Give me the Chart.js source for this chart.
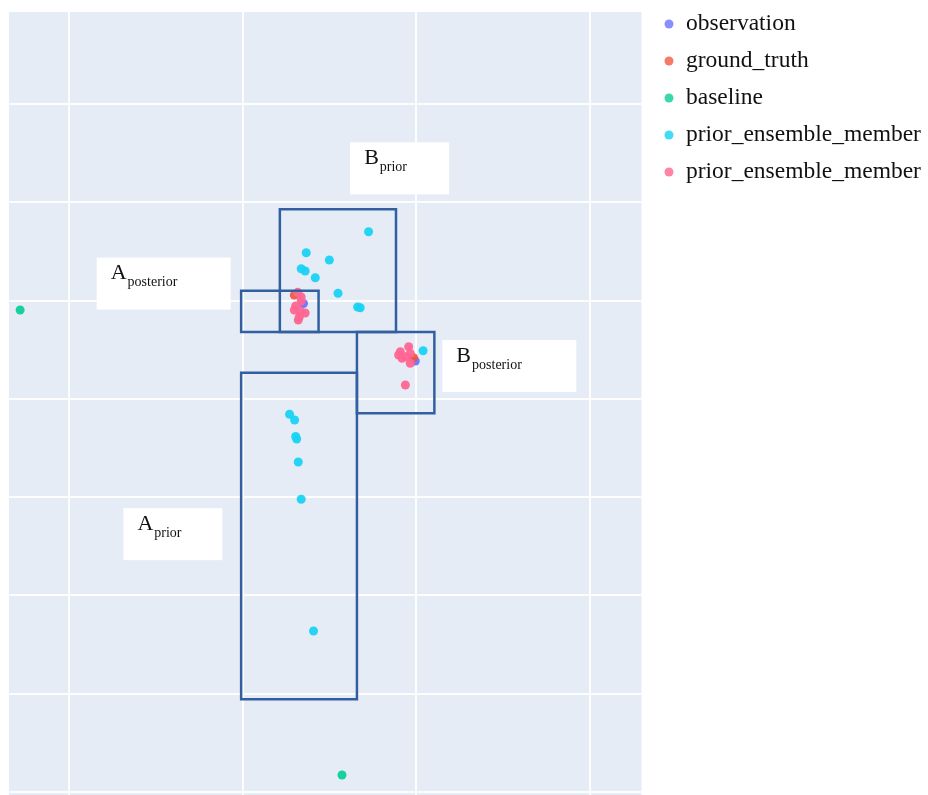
<!DOCTYPE html>
<html>
<head>
<meta charset="utf-8">
<script src="https://cdn.jsdelivr.net/npm/chart.js@4.4.1/dist/chart.umd.min.js"></script>
<style>
  html, body { margin: 0; padding: 0; background: #ffffff; }
  #wrap { width: 928px; height: 795px; position: relative; }
</style>
</head>
<body>
<div id="wrap"><canvas id="c" width="928" height="795"></canvas></div>
<script>
// Axis extents
const xRange = [-0.346, 3.297];
const yRange = [-0.0305, 7.936];

// Observed and true positions of the two targets
const observationX = [1.350, 1.994];
const observationY = [4.970, 4.385];
const groundTruthX = [1.297, 1.984];
const groundTruthY = [5.056, 4.419];

// Baseline estimates
const baselineX = [-0.282, 1.572];
const baselineY = [4.904, 0.173];

// Prior ensemble members (cyan)
const priorCyanX = [1.725, 1.366, 1.499, 1.337, 1.360, 1.418, 1.549, 1.662, 1.677, 2.039,
                    1.270, 1.299, 1.305, 1.311, 1.320, 1.337, 1.408];
const priorCyanY = [5.700, 5.487, 5.413, 5.324, 5.301, 5.232, 5.074, 4.934, 4.927, 4.490,
                    3.843, 3.785, 3.617, 3.591, 3.357, 2.978, 1.638];

// Prior ensemble members (pink)
const priorPinkX = [1.317, 1.337, 1.337, 1.305, 1.297, 1.331, 1.360, 1.326, 1.320,
                    1.908, 1.956, 1.965, 1.918, 1.965, 1.937, 1.898, 1.937];
const priorPinkY = [5.084, 5.036, 4.995, 4.945, 4.904, 4.894, 4.873, 4.833, 4.802,
                    4.480, 4.530, 4.463, 4.412, 4.362, 4.429, 4.446, 4.141];

// Bounding boxes: [xMin, xMax, yMin, yMax]
const boxBPrior     = [1.214, 1.883, 4.680, 5.928];
const boxAPosterior = [0.991, 1.437, 4.680, 5.100];
const boxBPosterior = [1.658, 2.104, 3.853, 4.680];
const boxAPrior     = [0.991, 1.658, 0.943, 4.266];

// Box labels
const labelMain = ['B', 'A', 'B', 'A'];
const labelSub  = ['prior', 'posterior', 'posterior', 'prior'];
const labelX    = [1.904, 0.545, 2.536, 0.598];
const labelY    = [6.345, 5.173, 4.334, 2.623];

const COLORS = {
  observation: 'rgba(99,110,250,0.9)',
  ground_truth: 'rgba(239,85,59,0.9)',
  baseline: 'rgba(0,204,150,0.9)',
  cyan: 'rgba(25,211,243,0.95)',
  pink: 'rgba(255,102,146,0.95)',
  box: 'rgb(50,95,160)'
};

function zipPoints(xs, ys) {
  return xs.map((x, i) => ({ x: x, y: ys[i] }));
}

function boxOutline(b) {
  const [x0, x1, y0, y1] = b;
  return [
    { x: x0, y: y0 }, { x: x1, y: y0 }, { x: x1, y: y1 },
    { x: x0, y: y1 }, { x: x0, y: y0 }, { x: x1, y: y0 }
  ];
}

function markerSet(label, xs, ys, color, order) {
  return {
    label: label,
    data: zipPoints(xs, ys),
    backgroundColor: color,
    borderWidth: 0,
    pointRadius: 4.5,
    pointHoverRadius: 4.5,
    showLine: false,
    order: order,
    inLegend: true
  };
}

function boxSet(b) {
  return {
    label: 'box',
    data: boxOutline(b),
    showLine: true,
    borderColor: COLORS.box,
    borderWidth: 2.5,
    borderJoinStyle: 'miter',
    pointRadius: 0,
    pointHoverRadius: 0,
    tension: 0,
    fill: false,
    order: 0,
    inLegend: false
  };
}

const datasets = [
  markerSet('observation', observationX, observationY, COLORS.observation, 5),
  markerSet('ground_truth', groundTruthX, groundTruthY, COLORS.ground_truth, 4),
  markerSet('baseline', baselineX, baselineY, COLORS.baseline, 3),
  markerSet('prior_ensemble_member', priorCyanX, priorCyanY, COLORS.cyan, 2),
  markerSet('prior_ensemble_member', priorPinkX, priorPinkY, COLORS.pink, 1),
  boxSet(boxBPrior),
  boxSet(boxAPosterior),
  boxSet(boxBPosterior),
  boxSet(boxAPrior)
];

// Plot background
const plotBackground = {
  id: 'plotBackground',
  beforeDraw(chart) {
    const { ctx, chartArea: a } = chart;
    ctx.save();
    ctx.fillStyle = '#E5ECF6';
    ctx.fillRect(a.left, a.top, a.right - a.left, a.bottom - a.top);
    ctx.restore();
  }
};

// White label boxes with subscripted text
const boxLabels = {
  id: 'boxLabels',
  afterDatasetsDraw(chart) {
    const { ctx, scales } = chart;
    ctx.save();
    labelMain.forEach((main, i) => {
      const cx = scales.x.getPixelForValue(labelX[i]);
      const cy = scales.y.getPixelForValue(labelY[i]);
      const w = labelSub[i] === 'prior' ? 99 : 134;
      const h = 52;
      const left = cx - w / 2;
      const top = cy - h / 2;
      ctx.fillStyle = '#ffffff';
      ctx.fillRect(left, top, w, h);
      ctx.fillStyle = '#111111';
      ctx.textBaseline = 'alphabetic';
      ctx.textAlign = 'left';
      ctx.font = '22px "Liberation Serif", "Times New Roman", serif';
      const tx = left + 14;
      ctx.fillText(main, tx, top + 21.5);
      const mw = ctx.measureText(main).width;
      ctx.font = '14px "Liberation Serif", "Times New Roman", serif';
      ctx.fillText(labelSub[i], tx + mw + 1, top + 28.5);
    });
    ctx.restore();
  }
};

// Legend listing the marker series
const sideLegend = {
  id: 'sideLegend',
  afterDraw(chart) {
    const { ctx } = chart;
    ctx.save();
    let y = 24;
    chart.data.datasets.filter(d => d.inLegend).forEach(d => {
      ctx.beginPath();
      ctx.fillStyle = d.backgroundColor;
      ctx.globalAlpha = 0.85;
      ctx.arc(669, y, 4.5, 0, Math.PI * 2);
      ctx.fill();
      ctx.globalAlpha = 1;
      ctx.fillStyle = '#111111';
      ctx.font = '23.5px "Liberation Serif", "Times New Roman", serif';
      ctx.textBaseline = 'alphabetic';
      ctx.textAlign = 'left';
      ctx.fillText(d.label, 686, y + 5.5);
      y += 37;
    });
    ctx.restore();
  }
};

const axisCommon = {
  type: 'linear',
  ticks: { display: false, stepSize: 1, includeBounds: false },
  grid: { color: 'rgba(255,255,255,0.9)', lineWidth: 2, drawTicks: false },
  border: { display: false }
};

new Chart(document.getElementById('c'), {
  type: 'scatter',
  data: { datasets: datasets },
  options: {
    responsive: false,
    animation: false,
    layout: { autoPadding: false, padding: { left: 9, top: 12, right: 286.5, bottom: 0 } },
    plugins: { legend: { display: false }, tooltip: { enabled: false } },
    scales: {
      x: Object.assign({}, axisCommon, {
        min: xRange[0], max: xRange[1],
        afterFit(scale) { scale.height = 0; }
      }),
      y: Object.assign({}, axisCommon, {
        min: yRange[0], max: yRange[1],
        afterFit(scale) { scale.width = 0; }
      })
    }
  },
  plugins: [plotBackground, boxLabels, sideLegend]
});
</script>
</body>
</html>
